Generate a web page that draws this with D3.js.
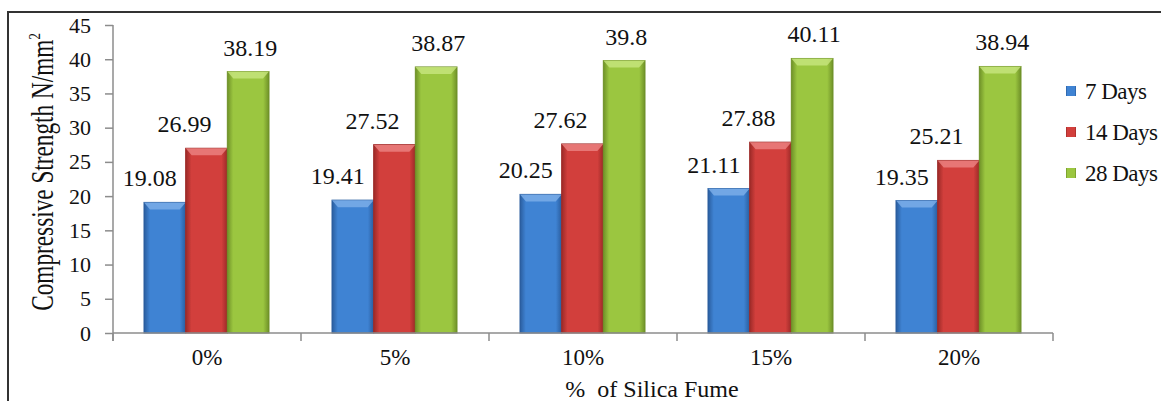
<!DOCTYPE html>
<html>
<head>
<meta charset="utf-8">
<script src="https://cdn.jsdelivr.net/npm/d3@7"></script>
<style>
  body { margin: 0; background: #fff; }
</style>
</head>
<body>
<script>
const categories = ["0%", "5%", "10%", "15%", "20%"];
const seriesNames = ["7 Days", "14 Days", "28 Days"];
const days7 = [19.08, 19.41, 20.25, 21.11, 19.35];
const days14 = [26.99, 27.52, 27.62, 27.88, 25.21];
const days28 = [38.19, 38.87, 39.8, 40.11, 38.94];
const yTicks = [0, 5, 10, 15, 20, 25, 30, 35, 40, 45];

const allSeries = [days7, days14, days28];
const colors = [
  {edge: "#2a5d9e", mid: "#3f83d3", light: "#7fb0ea"},
  {edge: "#9c2a28", mid: "#d23f3c", light: "#ec8583"},
  {edge: "#6f9128", mid: "#9bc640", light: "#c8e67f"}
];
// excel put the labels a bit off the bar centres
const labelShift = [-15, -22, 2];
const FONT = "Liberation Serif";

const W = 1161, H = 401;
const plotL = 113, plotR = 1053, plotT = 25, plotB = 333;

const svg = d3.select("body").append("svg")
  .attr("width", W).attr("height", H)
  .attr("font-family", FONT);

const defs = svg.append("defs");
colors.forEach((c, i) => {
  const g = defs.append("linearGradient").attr("id", "bar" + i)
    .attr("x1", "0").attr("x2", "1").attr("y1", "0").attr("y2", "0");
  g.append("stop").attr("offset", "0%").attr("stop-color", c.edge);
  g.append("stop").attr("offset", "14%").attr("stop-color", c.mid);
  g.append("stop").attr("offset", "86%").attr("stop-color", c.mid);
  g.append("stop").attr("offset", "100%").attr("stop-color", c.edge);
});

// outer frame
svg.append("rect")
  .attr("x", 8).attr("y", 12).attr("width", 1200).attr("height", 420)
  .attr("fill", "none").attr("stroke", "#333").attr("stroke-width", 2);

const x = d3.scaleBand().domain(categories).range([plotL, plotR]);
const x1 = d3.scaleBand().domain(d3.range(3)).range([31, 156]);
const y = d3.scaleLinear().domain([0, 45]).range([plotB, plotT]);

// bars
const groups = svg.append("g").selectAll("g")
  .data(categories)
  .join("g")
  .attr("transform", d => `translate(${x(d)},0)`);

const bars = groups.selectAll("g")
  .data((d, i) => allSeries.map((s, k) => ({k: k, v: s[i]})))
  .join("g");

bars.append("rect")
  .attr("x", d => x1(d.k))
  .attr("y", d => y(d.v))
  .attr("width", x1.bandwidth())
  .attr("height", d => y(0) - y(d.v))
  .attr("fill", d => `url(#bar${d.k})`)
  .attr("stroke", d => colors[d.k].edge)
  .attr("stroke-width", 1);

// top bevel
bars.append("path")
  .attr("d", d => {
    const x0 = x1(d.k), w = x1.bandwidth(), t = y(d.v);
    return `M${x0},${t}L${x0 + w},${t}L${x0 + w - 6},${t + 7}L${x0 + 6},${t + 7}Z`;
  })
  .attr("fill", d => colors[d.k].light)
  .attr("opacity", 0.8);

bars.append("text")
  .attr("x", d => x1(d.k) + x1.bandwidth() / 2 + labelShift[d.k])
  .attr("y", d => y(d.v) - 16)
  .attr("text-anchor", "middle")
  .style("font-family", FONT).attr("font-size", 24)
  .attr("fill", "#111")
  .text(d => d.v);

// y axis
const yAxis = svg.append("g")
  .attr("transform", `translate(${plotL},0)`)
  .call(d3.axisLeft(y).tickValues(yTicks).tickSize(8).tickPadding(14));
yAxis.attr("font-family", FONT);
yAxis.selectAll("text")
  .style("font-family", FONT).attr("font-size", 22).attr("fill", "#111");

// x axis
const xAxis = svg.append("g")
  .attr("transform", `translate(0,${plotB})`)
  .call(d3.axisBottom(x).tickSize(0).tickPadding(16));
xAxis.attr("font-family", FONT);
xAxis.selectAll("text")
  .style("font-family", FONT).attr("font-size", 23).attr("fill", "#111");
xAxis.selectAll(".sep")
  .data(d3.range(categories.length + 1))
  .join("line")
  .attr("class", "sep")
  .attr("x1", i => plotL + i * x.step()).attr("x2", i => plotL + i * x.step())
  .attr("y1", 0).attr("y2", 8);

svg.selectAll(".domain, .tick line, .sep")
  .attr("stroke", "#8c8c8c").attr("stroke-width", 1.5);
xAxis.select(".domain").attr("d", `M${plotL},0H${plotR}`);
yAxis.select(".domain").attr("d", `M0,${plotT}V${plotB + 8}`);

// axis titles (the y title is squeezed along its length in the original)
const yTitle = svg.append("text")
  .attr("transform", `translate(53,172) rotate(-90) scale(0.75,1)`)
  .attr("text-anchor", "middle")
  .style("font-family", FONT).attr("font-size", 31)
  .attr("fill", "#111");
yTitle.append("tspan").text("Compressive Strength N/mm");
yTitle.append("tspan").attr("dy", -13).attr("font-size", 17).text("2");

svg.append("text")
  .attr("x", 652).attr("y", 397)
  .attr("text-anchor", "middle")
  .style("font-family", FONT).attr("font-size", 24)
  .style("white-space", "pre")
  .attr("fill", "#111")
  .text("%  of Silica Fume");

// legend
const legend = svg.append("g").selectAll("g")
  .data(seriesNames)
  .join("g")
  .attr("transform", (d, i) => `translate(1066,${99 + i * 41})`);
legend.append("rect")
  .attr("x", 0).attr("y", -13).attr("width", 10).attr("height", 10)
  .attr("fill", (d, i) => `url(#bar${i})`);
legend.append("text")
  .attr("x", 19).attr("y", 0)
  .style("font-family", FONT).attr("font-size", 23)
  .attr("letter-spacing", -0.5)
  .attr("fill", "#111")
  .text(d => d);
</script>
</body>
</html>
